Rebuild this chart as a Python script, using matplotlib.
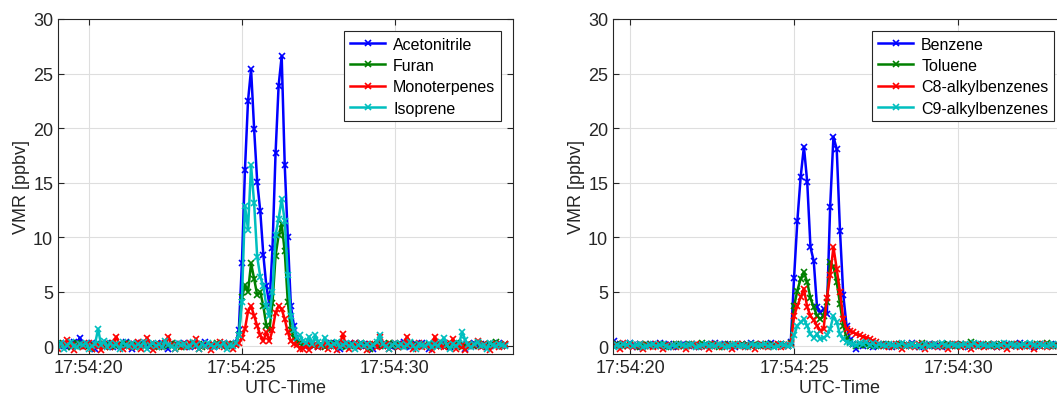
import numpy as np
import pandas as pd
import matplotlib
matplotlib.use('Agg')
import matplotlib.pyplot as plt
import matplotlib.dates as mdates

plt.rcParams['font.family'] = ['Liberation Sans', 'DejaVu Sans']

# 10 Hz samples; the two instruments' clocks start 0.1 s apart
n_pre, n_peak, n_post = 59, 22, 67
left_times = pd.date_range('2019-01-01 17:54:18.9', periods=n_pre + n_peak + n_post, freq='100ms')
right_times = pd.date_range('2019-01-01 17:54:19.0', periods=n_pre + n_peak + n_post, freq='100ms')

# ---- left panel: biomass burning tracers (ppbv) ----
acn_pre = [0.2,0.1,0.3,0.0,-0.1,0.2,0.4,0.1,0.8,0.2, 0.0,0.1,0.3,-0.2,0.1,0.2,0.0,0.3,0.1,-0.1,
           0.2,0.0,0.1,0.4,0.2,-0.2,0.1,0.0,0.3,0.1, 0.2,-0.1,0.0,0.2,0.1,0.3,0.0,-0.2,0.1,0.2,
           0.0,0.1,0.3,0.1,-0.1,0.2,0.0,0.1,0.2,0.4, 0.1,0.0,-0.1,0.2,0.1,0.3,0.0,0.1,0.2]
acn_peak = [0.3,1.5,7.6,16.2,22.5,25.4,19.9,15.1,12.4,8.4,5.5,3.8,9.0,17.7,23.9,26.6,16.6,10.0,3.7,1.9,0.8,0.3]
acn_post = [0.1,0.2,0.0,0.3,0.1,-0.1,0.2,0.0,0.1,0.3, 0.0,0.2,-0.2,0.1,0.0,0.2,0.1,0.3,-0.1,0.0,
            0.2,0.1,0.0,-0.2,0.1,0.3,0.0,0.1,0.2,-0.1, 0.0,0.2,0.1,0.4,0.0,-0.1,0.1,0.2,0.0,0.3,
            0.1,-0.2,0.0,0.2,0.1,0.0,0.3,0.1,-0.1,0.2, 0.0,0.1,0.2,-0.2,0.0,0.1,0.3,0.0,0.2,0.1,
            -0.1,0.0,0.2,0.1,0.3,0.0,0.1]

fur_pre = [0.1,0.3,0.0,0.2,0.1,-0.1,0.2,0.3,0.0,0.1, 0.2,0.0,-0.2,0.1,0.3,0.1,0.0,0.2,-0.1,0.1,
           0.0,0.2,0.1,0.3,0.0,0.1,-0.1,0.2,0.0,0.1, 0.3,0.1,0.0,0.2,-0.1,0.1,0.2,0.0,0.3,0.1,
           0.0,-0.1,0.2,0.1,0.0,0.3,0.1,0.2,-0.1,0.0, 0.2,0.1,0.0,0.3,0.1,0.2,0.0,0.1,0.2]
fur_peak = [0.2,1.0,4.5,5.6,5.0,7.6,6.2,4.7,5.0,3.7,1.9,1.5,4.0,8.3,10.2,11.2,8.7,4.1,1.5,0.8,0.4,0.3]
fur_post = [0.2,0.0,0.1,0.3,0.1,0.0,0.2,-0.1,0.1,0.0, 0.3,0.1,0.2,0.0,-0.1,0.1,0.2,0.0,0.1,0.3,
            0.0,0.1,-0.2,0.2,0.1,0.0,0.2,0.1,0.3,0.0, 0.1,-0.1,0.2,0.0,0.1,0.3,0.1,0.0,0.2,0.1,
            0.0,0.2,-0.1,0.1,0.3,0.0,0.1,0.2,0.0,0.1, 0.3,0.1,-0.1,0.0,0.2,0.1,0.0,0.3,0.1,0.2,
            0.0,0.1,0.2,0.4,0.1,0.0,0.2]

mon_pre = [0.1,-0.2,0.0,0.2,0.6,0.1,-0.3,0.0,0.2,-0.1, 0.1,0.3,-0.2,0.0,0.1,-0.3,0.2,0.0,-0.1,0.3,
           0.9,0.1,-0.2,0.0,0.2,-0.1,0.1,0.4,-0.2,0.0, 0.8,0.1,-0.3,0.2,0.0,-0.1,0.3,0.9,0.1,-0.2,
           0.0,0.2,-0.1,0.1,0.3,0.0,0.7,-0.2,0.1,0.0, 0.2,-0.3,0.1,0.0,0.4,-0.1,0.2,0.0,-0.2]
mon_peak = [0.1,0.3,0.8,1.6,3.2,3.7,2.8,1.9,1.0,0.5,1.3,0.5,1.5,3.1,3.7,3.4,2.5,1.3,0.5,0.2,0.1,-0.2]
mon_post = [-0.2,0.0,-0.3,0.1,0.2,-0.1,0.0,0.3,-0.2,0.1, 0.0,-0.3,0.2,1.1,0.1,-0.2,0.0,0.3,-0.1,0.1,
            0.0,-0.3,0.2,0.1,-0.1,0.9,0.0,0.2,-0.2,0.1, 0.3,-0.1,0.0,0.2,0.9,0.1,-0.2,0.0,0.3,-0.1,
            0.1,0.0,-0.3,0.9,0.2,0.0,-0.1,0.1,0.3,0.7, -0.2,0.0,0.1,-0.3,0.2,0.0,0.1,0.5,-0.1,0.2,
            0.0,-0.3,0.1,0.2,-0.1,0.0,0.2]

iso_pre = [0.2,0.0,0.3,-0.2,0.1,0.4,0.0,-0.1,0.2,0.1, 0.3,-0.2,0.0,0.2,1.6,0.1,0.5,-0.1,0.3,0.0,
           0.2,-0.2,0.4,0.1,0.0,0.3,-0.1,0.2,0.0,0.4, -0.2,0.1,0.3,0.0,0.2,-0.1,0.5,0.1,0.0,-0.2,
           0.3,0.1,0.2,-0.1,0.0,0.4,0.1,-0.2,0.2,0.0, 0.3,0.1,-0.1,0.2,0.0,0.3,-0.2,0.1,0.0]
iso_peak = [0.3,1.0,4.1,12.9,10.7,16.6,13.1,8.2,6.4,5.5,3.7,2.8,5.0,10.2,11.7,13.5,11.5,6.5,2.8,1.5,0.8,1.0]
iso_post = [0.5,0.3,0.9,0.2,1.0,0.4,0.1,0.8,0.3,0.0, 0.2,0.4,-0.1,0.1,0.3,0.0,0.2,-0.2,0.1,0.3,
            0.0,0.2,-0.1,0.1,0.4,1.0,0.2,0.0,-0.2,0.1, 0.3,0.0,0.2,-0.1,0.1,0.4,0.0,-0.2,0.2,0.1,
            0.0,0.3,-0.1,0.2,0.0,0.4,0.8,0.1,-0.2,0.2, 0.0,0.3,1.3,0.6,0.1,-0.1,0.2,0.4,0.0,0.1,
            -0.2,0.3,0.1,0.0,0.2,0.1,0.0]

# ---- right panel: aromatics (ppbv) ----
ben_pre = [0.4,0.2,0.1,0.3,0.0,0.5,0.1,0.2,0.0,0.1, 0.3,0.1,-0.1,0.2,0.0,0.1,0.2,0.0,0.1,0.3,
           0.0,0.1,0.2,-0.1,0.1,0.0,0.2,0.1,0.0,0.2, 0.1,-0.1,0.0,0.2,0.1,0.0,0.3,0.1,0.0,0.2,
           0.1,0.0,-0.1,0.1,0.2,0.0,0.1,0.3,0.1,0.0, 0.2,0.1,0.0,0.3,0.1,0.0,0.2,0.1,0.0]
ben_peak = [0.4,6.3,11.5,15.5,18.3,15.1,9.1,7.8,3.6,3.1,3.4,3.0,12.8,19.2,18.1,10.6,4.7,1.9,0.6,0.2,-0.2,0.1]
ben_post = [0.0,0.1,0.2,-0.1,0.0,0.1,0.2,0.0,0.1,-0.1, 0.0,0.2,0.1,0.0,0.1,0.3,0.0,-0.1,0.1,0.0,
            0.2,0.1,0.0,0.1,-0.1,0.0,0.2,0.1,0.0,0.1, 0.2,0.0,-0.1,0.1,0.0,0.2,0.1,0.0,0.1,0.0,
            0.2,-0.1,0.0,0.1,0.2,0.0,0.1,0.0,0.3,0.1, 0.0,0.1,-0.1,0.0,0.2,0.1,0.0,0.1,0.0,0.2,
            0.1,0.0,-0.1,0.1,0.0,0.2,0.1]

tol_pre = [0.1,0.0,0.2,0.1,-0.1,0.0,0.2,0.1,0.0,0.1, 0.2,0.0,0.1,-0.1,0.1,0.2,0.0,0.1,0.0,0.2,
           0.1,-0.1,0.0,0.1,0.2,0.0,0.1,0.0,0.2,0.1, 0.0,0.1,0.3,0.0,0.1,0.2,0.0,-0.1,0.1,0.0,
           0.2,0.1,0.0,0.1,0.2,0.0,0.1,0.0,0.2,0.1, 0.0,0.1,0.2,0.0,0.1,0.0,0.2,0.1,0.0]
tol_peak = [0.3,3.7,5.1,6.2,6.8,5.9,4.4,3.6,2.8,2.5,2.8,4.1,7.7,7.3,5.9,3.9,1.9,0.8,0.4,0.2,0.0,0.1]
tol_post = [0.2,0.1,0.0,0.2,0.1,0.0,0.1,0.2,0.0,0.1, 0.0,0.2,0.1,0.0,0.1,0.2,0.0,0.1,0.3,0.1,
            0.0,0.1,0.2,0.0,0.1,0.0,0.2,0.1,0.0,0.1, 0.2,0.0,0.1,0.4,0.2,0.0,0.1,0.0,0.2,0.1,
            0.0,0.1,0.2,0.0,0.1,0.0,0.2,0.1,0.0,0.2, 0.1,0.0,0.1,0.2,0.0,0.1,0.3,0.1,0.0,0.1,
            0.2,0.0,0.1,0.0,0.2,0.1,0.0]

c8_pre = [0.0,-0.2,0.1,0.2,-0.1,0.0,0.1,-0.2,0.3,0.0, 0.1,-0.1,0.0,0.2,-0.2,0.1,0.0,-0.1,0.2,0.0,
          -0.2,0.1,0.0,0.1,-0.1,0.2,0.0,-0.2,0.1,0.0, 0.2,-0.1,0.0,0.1,-0.2,0.0,0.2,0.1,-0.1,0.0,
          0.1,-0.2,0.0,0.2,0.1,-0.1,0.0,0.1,-0.2,0.0, 0.2,0.0,-0.1,0.1,0.0,0.2,-0.1,0.0,0.1]
c8_peak = [0.2,2.8,3.7,4.5,5.3,3.6,2.8,2.4,1.9,1.4,1.6,4.4,6.5,9.1,7.1,5.0,2.5,1.6,1.4,1.3,1.1,1.0]
c8_post = [0.9,0.8,0.7,0.5,0.4,0.2,0.0,0.1,-0.1,0.0, 0.2,0.0,-0.2,0.1,0.0,0.1,-0.1,0.2,0.0,-0.2,
           0.1,0.0,0.2,-0.1,0.0,0.1,-0.2,0.0,0.2,0.1, -0.1,0.0,0.1,-0.2,0.0,0.2,0.0,-0.1,0.1,0.0,
           0.2,-0.1,0.0,0.1,-0.2,0.0,0.1,0.2,-0.1,0.0, 0.1,0.0,-0.2,0.1,0.0,0.2,-0.1,0.0,0.1,0.0,
           -0.1,0.2,0.0,0.1,-0.2,0.0,0.1]

c9_pre = [0.2,0.1,0.0,0.2,0.1,-0.1,0.1,0.0,0.2,0.1, 0.3,0.0,0.1,0.2,-0.1,0.0,0.1,0.2,0.0,0.1,
          0.2,0.0,-0.1,0.1,0.0,0.2,0.1,0.0,0.1,0.2, -0.1,0.0,0.1,0.2,0.0,0.1,0.0,0.2,0.1,-0.1,
          0.0,0.1,0.2,0.0,0.1,0.0,-0.1,0.2,0.1,0.0, 0.1,0.2,0.0,0.1,-0.1,0.0,0.2,0.1,0.0]
c9_peak = [0.1,1.0,1.9,2.2,2.5,1.9,1.1,0.8,1.1,0.7,0.8,1.0,1.6,2.8,2.2,1.1,0.7,0.4,0.3,0.2,0.1,0.3]
c9_post = [0.2,0.4,0.1,0.3,0.0,0.2,0.1,0.0,0.2,0.1, 0.0,0.1,0.3,0.0,0.1,0.2,0.0,0.1,-0.1,0.2,
           0.0,0.1,0.2,0.0,0.3,0.1,0.0,0.2,0.1,0.0, 0.1,0.2,0.0,0.1,0.3,0.0,0.2,0.1,0.0,0.1,
           0.2,0.0,0.1,0.3,0.0,0.2,0.1,0.0,0.1,0.2, 0.0,0.3,0.1,0.0,0.2,0.1,0.0,0.1,0.2,0.0,
           0.1,0.0,0.2,0.1,0.0,0.2,0.1]

left_names = ['Acetonitrile', 'Furan', 'Monoterpenes', 'Isoprene']
left_data = [acn_pre + acn_peak + acn_post, fur_pre + fur_peak + fur_post,
             mon_pre + mon_peak + mon_post, iso_pre + iso_peak + iso_post]
right_names = ['Benzene', 'Toluene', 'C8-alkylbenzenes', 'C9-alkylbenzenes']
right_data = [ben_pre + ben_peak + ben_post, tol_pre + tol_peak + tol_post,
              c8_pre + c8_peak + c8_post, c9_pre + c9_peak + c9_post]

colours = ['#0000ff', '#008000', '#ff0000', '#00bfbf']
yticks = [0, 5, 10, 15, 20, 25, 30]
left_xlim = (pd.Timestamp('2019-01-01 17:54:18.99'), pd.Timestamp('2019-01-01 17:54:33.86'))
right_xlim = (pd.Timestamp('2019-01-01 17:54:19.48'), pd.Timestamp('2019-01-01 17:54:33.29'))

W, H = 1057, 406
fig = plt.figure(figsize=(W / 100, H / 100), dpi=100)
ax1 = fig.add_axes([58 / W, (H - 355) / H, (513 - 58) / W, (355 - 20) / H])
ax2 = fig.add_axes([613 / W, (H - 355) / H, (1066 - 613) / W, (355 - 20) / H])

panels = [(ax1, left_times, left_names, left_data, left_xlim),
          (ax2, right_times, right_names, right_data, right_xlim)]
for ax, times, names, data, xl in panels:
    for name, vals, c in zip(names, data, colours):
        ax.plot(times, vals, color=c, marker='x', markersize=5, markeredgewidth=1.2,
                linewidth=1.8, label=name)
    ax.set_xlim(xl)
    ax.set_ylim(-0.7, 30)
    ax.set_yticks(yticks)
    ax.xaxis.set_major_locator(mdates.SecondLocator(bysecond=[20, 25, 30]))
    ax.xaxis.set_major_formatter(mdates.DateFormatter('%H:%M:%S'))
    ax.grid(True, color='#dedede', linewidth=0.8)
    ax.set_axisbelow(True)
    ax.tick_params(direction='in', labelsize=13, colors='#262626', length=4,
                   top=True, right=True)
    for s in ax.spines.values():
        s.set_color('#262626')
        s.set_linewidth(0.8)
    ax.set_xlabel('UTC-Time', fontsize=13, color='#262626', labelpad=2)
    ax.set_ylabel('VMR [ppbv]', fontsize=13, color='#262626', labelpad=2)
    leg = ax.legend(loc='upper right', fontsize=11.5, frameon=True, fancybox=False,
                    framealpha=1, handlelength=2.2, borderpad=0.35, labelspacing=0.4,
                    handletextpad=0.5, borderaxespad=0.75)
    leg.get_frame().set_edgecolor('#262626')
    leg.get_frame().set_linewidth(0.8)

fig.savefig('out.png', dpi=100)
